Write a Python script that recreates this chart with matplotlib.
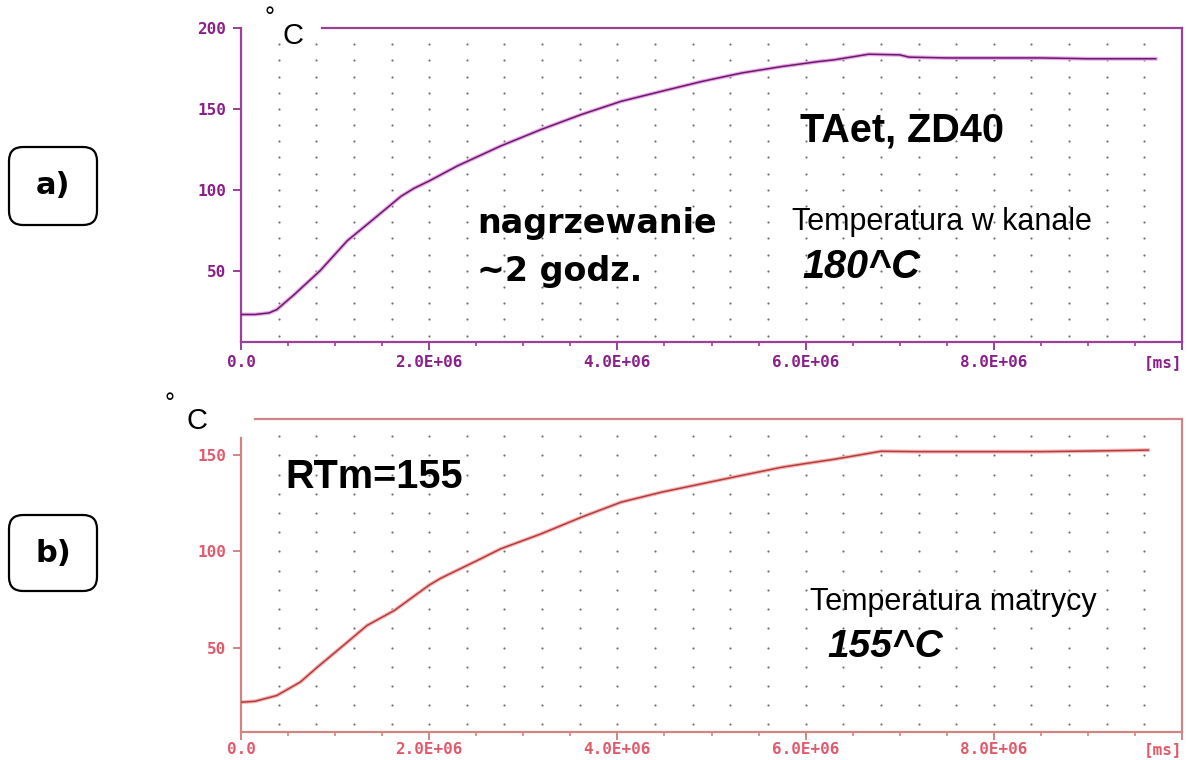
import numpy as np
import matplotlib
matplotlib.use('Agg')
import matplotlib.pyplot as plt
from matplotlib.patches import FancyBboxPatch
from matplotlib.transforms import IdentityTransform
from matplotlib.ticker import MultipleLocator, FixedLocator

# ---- data (time in 1e6 ms, temp in deg C) ----
# a) channel temperature, TAet ZD40
time_a = [0, 0.15, 0.3, 0.38, 0.56, 0.84, 1.13, 1.41, 1.7, 1.84, 2.0, 2.3, 2.76,
          3.19, 3.62, 4.04, 4.47, 4.9, 5.32, 5.75, 6.14, 6.3, 6.67, 7.0, 7.1,
          7.5, 8.0, 8.5, 9.0, 9.72]
temp_a = [23, 23, 24, 26, 35, 50, 68.6, 82, 96, 101, 105.5, 114.8, 127.1,
          137.3, 146.6, 154.7, 160.9, 167, 172.2, 176.2, 179.3, 180.3, 183.8, 183.4, 182,
          181.5, 181.5, 181.5, 181, 181]

# b) die temperature, RTm=155
time_b = [0, 0.15, 0.38, 0.63, 0.81, 1.13, 1.34, 1.63, 2.0, 2.12, 2.51, 2.76,
          3.19, 3.62, 4.04, 4.47, 4.9, 5.32, 5.75, 6.0, 6.3, 6.6, 6.8, 7.2,
          7.6, 8.0, 8.5, 9.0, 9.64]
temp_b = [21.5, 22, 25, 32, 39.7, 52.8, 61.5, 69.3, 82.5, 86, 95.3, 101.4,
          109.2, 117.9, 125.7, 130.9, 135.3, 139.6, 143.9, 145.8, 148, 150.5, 152.2, 152,
          152, 152, 152, 152.3, 152.8]

xtick_vals = [0, 2e6, 4e6, 6e6, 8e6, 1e7]
xtick_labels = ['0.0', '2.0E+06', '4.0E+06', '6.0E+06', '8.0E+06', '[ms]']
ytick_a = [50, 100, 150, 200]
ytick_b = [50, 100, 150]

W, H = 1187, 760

def fx(px):
    return px / W

def fy(py):
    return 1 - py / H

fig = plt.figure(figsize=(W / 100, H / 100), dpi=100)
fig.patch.set_facecolor('white')

mono = 'DejaVu Sans Mono'


def setup_axes(ax, ylim, yticks, spine_col, lab_col, top_from, left_top, xpad):
    ax.set_xlim(0, 1e7)
    ax.set_ylim(*ylim)
    for s in ax.spines.values():
        s.set_color(spine_col)
        s.set_linewidth(1.6)
    ax.spines['top'].set_bounds(top_from, 1e7)
    ax.spines['left'].set_bounds(ylim[0], left_top)
    ax.xaxis.set_major_locator(FixedLocator(xtick_vals))
    ax.set_xticklabels(xtick_labels)
    ax.xaxis.set_minor_locator(MultipleLocator(0.5e6))
    ax.set_yticks(yticks)
    ax.tick_params(axis='both', which='major', direction='out', length=5.5, width=1.4,
                   color=spine_col, labelcolor=lab_col, labelsize=11.5)
    ax.tick_params(axis='x', which='major', pad=xpad)
    ax.tick_params(axis='y', which='major', pad=5)
    ax.tick_params(axis='x', which='minor', direction='out', length=3, width=1.2,
                   color=spine_col)
    for lab in ax.get_xticklabels() + ax.get_yticklabels():
        lab.set_fontfamily(mono)
        lab.set_fontweight('bold')
    ax.get_xticklabels()[-1].set_horizontalalignment('right')

    # dotted recorder grid
    gx, gy = np.meshgrid(np.arange(0.4e6, 9.61e6, 0.4e6), np.arange(10, ylim[1] - 4, 10))
    ax.scatter(gx.ravel(), gy.ravel(), s=2.4, color='#6e6e6e', linewidths=0, zorder=1)


# ---------------- a) ----------------
ax1 = fig.add_axes([fx(241), fy(342), (1182 - 241) / W, (342 - 28) / H])
setup_axes(ax1, (6, 200), ytick_a, '#9a3f9a', '#8a1f8a', 0.86e6, 200, 4)
xa = np.array(time_a) * 1e6
ax1.plot(xa, temp_a, color='#e9a8e9', lw=2.8, zorder=2)
ax1.plot(xa, temp_a, color='#6a1a6a', lw=1.1, zorder=3)

# ---------------- b) ----------------
ax2 = fig.add_axes([fx(241), fy(732), (1182 - 241) / W, (732 - 419) / H])
setup_axes(ax2, (6, 169), ytick_b, '#d08585', '#e25a6a', 0.15e6, 159, 1.5)
xb = np.array(time_b) * 1e6
ax2.plot(xb, temp_b, color='#f2b8b8', lw=2.8, zorder=2)
ax2.plot(xb, temp_b, color='#b83a3a', lw=1.1, zorder=3)

# ---------------- annotations ----------------
def ftext(px, py, s, **kw):
    fig.text(fx(px), fy(py), s, va='baseline', ha='left', **kw)

sans = 'Liberation Sans'

# degree C unit labels
ftext(265, 25, '°', fontsize=18, family=sans)
ftext(283, 44, 'C', fontsize=21, family=sans)
ftext(165, 411, '°', fontsize=18, family=sans)
ftext(186, 429, 'C', fontsize=21, family=sans)

ftext(800, 142, 'TAet, ZD40', fontsize=28.5, family=sans, fontweight='bold')
ftext(477, 233, 'nagrzewanie', fontsize=24, family='DejaVu Sans', fontweight='bold')
ftext(477, 281, '~2 godz.', fontsize=24, family='DejaVu Sans', fontweight='bold')
ftext(792, 230, 'Temperatura w kanale', fontsize=22, family=sans)
ftext(802, 278, '180^C', fontsize=28.5, family=sans, fontweight='bold', style='italic')

ftext(285, 488, 'RTm=155', fontsize=28.5, family=sans, fontweight='bold')
ftext(810, 610, 'Temperatura matrycy', fontsize=22, family=sans)
ftext(827, 657, '155^C', fontsize=28, family=sans, fontweight='bold', style='italic')

# panel label boxes (pixel coordinates, origin bottom-left)
for (x0, y0, x1, y1, lab) in [(9, 147, 97, 225, 'a)'), (9, 515, 97, 591, 'b)')]:
    box = FancyBboxPatch((x0, H - y1), x1 - x0, y1 - y0,
                         boxstyle='round,pad=0,rounding_size=14',
                         transform=IdentityTransform(), facecolor='white',
                         edgecolor='black', linewidth=1.6)
    fig.patches.append(box)
    fig.text(fx((x0 + x1) / 2), fy((y0 + y1) / 2), lab, ha='center', va='center',
             fontsize=22, family='DejaVu Sans', fontweight='bold')

fig.savefig('out.png', dpi=100)
